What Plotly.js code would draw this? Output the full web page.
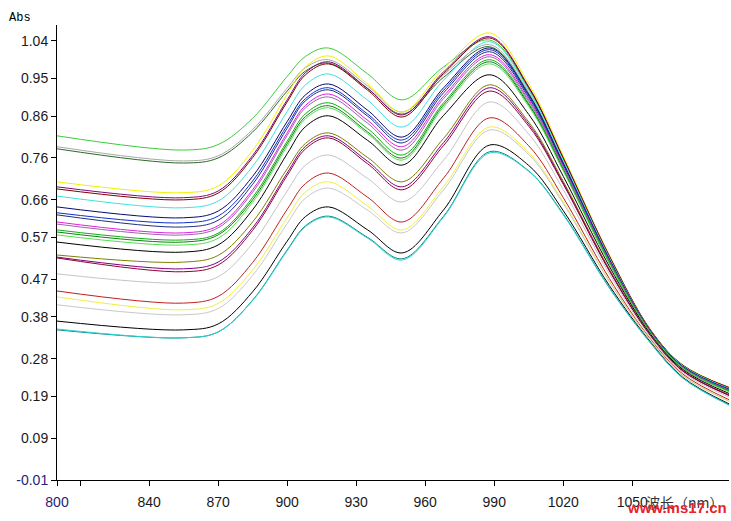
<!DOCTYPE html>
<html>
<head>
<meta charset="utf-8">
<script src="https://cdn.plot.ly/plotly-3.0.1.min.js"></script>
<style>html,body{margin:0;padding:0;background:#fff;}#chart{width:731px;height:521px;}</style>
</head>
<body>
<div id="chart"></div>
<script>
// wavelength (nm) sample points
const wavelength = [800, 855, 870, 885, 900, 908, 918, 935, 950, 968, 988, 1005, 1020, 1040, 1058, 1072, 1092];

// absorbance spectra (top to bottom at 800 nm)
const s01 = [0.813, 0.779, 0.792, 0.855, 0.955, 1.003, 1.023, 0.961, 0.899, 0.978, 1.042, 0.925, 0.757, 0.524, 0.347, 0.263, 0.210];
const s02 = [0.787, 0.753, 0.765, 0.828, 0.927, 0.976, 0.995, 0.932, 0.870, 0.959, 1.031, 0.916, 0.751, 0.520, 0.346, 0.262, 0.208];
const s03 = [0.782, 0.748, 0.760, 0.822, 0.920, 0.968, 0.987, 0.926, 0.865, 0.953, 1.026, 0.913, 0.748, 0.519, 0.345, 0.262, 0.207];
const s04 = [0.703, 0.677, 0.693, 0.778, 0.912, 0.978, 1.004, 0.937, 0.870, 0.974, 1.059, 0.937, 0.765, 0.528, 0.349, 0.265, 0.212];
const s05 = [0.691, 0.665, 0.681, 0.766, 0.899, 0.964, 0.990, 0.926, 0.863, 0.966, 1.050, 0.930, 0.760, 0.526, 0.348, 0.264, 0.211];
const s06 = [0.686, 0.660, 0.676, 0.761, 0.894, 0.959, 0.985, 0.922, 0.858, 0.962, 1.047, 0.928, 0.759, 0.525, 0.347, 0.264, 0.211];
const s07 = [0.669, 0.641, 0.657, 0.740, 0.871, 0.935, 0.961, 0.898, 0.834, 0.946, 1.038, 0.921, 0.754, 0.522, 0.346, 0.263, 0.209];
const s08 = [0.643, 0.617, 0.633, 0.716, 0.847, 0.911, 0.937, 0.874, 0.810, 0.928, 1.023, 0.911, 0.747, 0.518, 0.345, 0.261, 0.207];
const s09 = [0.629, 0.605, 0.621, 0.705, 0.838, 0.902, 0.928, 0.865, 0.803, 0.922, 1.019, 0.908, 0.745, 0.517, 0.344, 0.261, 0.206];
const s10 = [0.624, 0.595, 0.611, 0.697, 0.831, 0.897, 0.923, 0.860, 0.796, 0.916, 1.014, 0.904, 0.743, 0.516, 0.344, 0.260, 0.206];
const s11 = [0.607, 0.581, 0.598, 0.684, 0.820, 0.886, 0.913, 0.850, 0.787, 0.908, 1.007, 0.899, 0.739, 0.514, 0.343, 0.259, 0.205];
const s12 = [0.602, 0.576, 0.593, 0.678, 0.814, 0.880, 0.906, 0.843, 0.779, 0.902, 1.002, 0.895, 0.737, 0.512, 0.343, 0.259, 0.204];
const s13 = [0.588, 0.564, 0.580, 0.666, 0.800, 0.866, 0.892, 0.830, 0.767, 0.892, 0.995, 0.890, 0.733, 0.511, 0.342, 0.258, 0.203];
const s14 = [0.583, 0.559, 0.576, 0.660, 0.794, 0.859, 0.885, 0.822, 0.760, 0.887, 0.990, 0.887, 0.731, 0.509, 0.341, 0.257, 0.202];
const s15 = [0.576, 0.552, 0.568, 0.654, 0.788, 0.854, 0.880, 0.818, 0.755, 0.882, 0.985, 0.883, 0.729, 0.508, 0.341, 0.257, 0.201];
const s16 = [0.559, 0.535, 0.552, 0.636, 0.770, 0.835, 0.861, 0.802, 0.743, 0.862, 0.959, 0.864, 0.716, 0.501, 0.338, 0.254, 0.197];
const s17 = [0.528, 0.511, 0.527, 0.607, 0.734, 0.795, 0.820, 0.761, 0.703, 0.807, 0.935, 0.846, 0.704, 0.494, 0.335, 0.251, 0.194];
const s18 = [0.523, 0.495, 0.511, 0.593, 0.724, 0.788, 0.813, 0.752, 0.691, 0.797, 0.928, 0.841, 0.700, 0.492, 0.335, 0.251, 0.193];
const s19 = [0.521, 0.488, 0.504, 0.587, 0.718, 0.782, 0.808, 0.746, 0.684, 0.790, 0.920, 0.836, 0.697, 0.490, 0.334, 0.250, 0.192];
const s20 = [0.483, 0.461, 0.476, 0.556, 0.681, 0.743, 0.767, 0.711, 0.655, 0.755, 0.894, 0.817, 0.684, 0.483, 0.331, 0.247, 0.188];
const s21 = [0.442, 0.413, 0.429, 0.510, 0.637, 0.699, 0.724, 0.666, 0.607, 0.712, 0.856, 0.789, 0.665, 0.472, 0.326, 0.243, 0.182];
const s22 = [0.428, 0.397, 0.412, 0.492, 0.617, 0.679, 0.703, 0.645, 0.588, 0.692, 0.834, 0.773, 0.655, 0.466, 0.324, 0.240, 0.179];
const s23 = [0.409, 0.385, 0.400, 0.479, 0.603, 0.664, 0.688, 0.635, 0.581, 0.684, 0.827, 0.768, 0.651, 0.464, 0.323, 0.239, 0.178];
const s24 = [0.370, 0.349, 0.363, 0.440, 0.561, 0.620, 0.643, 0.588, 0.533, 0.636, 0.791, 0.742, 0.634, 0.455, 0.319, 0.235, 0.172];
const s25 = [0.349, 0.330, 0.344, 0.420, 0.540, 0.598, 0.621, 0.570, 0.519, 0.621, 0.775, 0.729, 0.626, 0.450, 0.317, 0.234, 0.170];
const s26 = [0.351, 0.330, 0.344, 0.419, 0.538, 0.596, 0.619, 0.568, 0.516, 0.619, 0.772, 0.728, 0.624, 0.449, 0.317, 0.233, 0.169];

const seriesList = [s01, s02, s03, s04, s05, s06, s07, s08, s09, s10, s11, s12, s13, s14, s15, s16, s17, s18, s19, s20, s21, s22, s23, s24, s25, s26];
const seriesColors = ['#3ccc3c', '#a8a8a8', '#2a6a2a', '#f2f000', '#7a0a7a', '#800000', '#40e0e0', '#0a0a70', '#1030d0', '#203080',
                      '#e020e0', '#a060b0', '#10b010', '#108010', '#50e050', '#000000', '#808000', '#800080', '#900030', '#c4c4c4',
                      '#c02020', '#f0f040', '#c8c8c8', '#000000', '#008c8c', '#30d0d0'];

// axis ticks as labelled in the picture
const xTickVals = [800, 810, 840, 870, 900, 930, 960, 990, 1020, 1050];
const xTickText = ['<span style="color:#24247a">800</span>', '', '840', '870', '900', '930', '960', '990', '1020', '1050'];
const yTickVals = [-0.01, 0.09, 0.19, 0.28, 0.38, 0.47, 0.57, 0.66, 0.76, 0.86, 0.95, 1.04];
const yTickText = ['<span style="color:#24247a">-0.01</span>', '0.09', '0.19', '0.28', '0.38', '0.47', '0.57', '0.66', '0.76', '0.86', '0.95', '1.04'];

const traces = seriesList.map((ys, i) => ({
  x: wavelength,
  y: ys,
  type: 'scatter',
  mode: 'lines',
  line: {color: seriesColors[i], width: 1, shape: 'spline', smoothing: 1},
  hoverinfo: 'skip',
  showlegend: false
}));

const tickFont = {family: 'Liberation Sans, Arial, sans-serif', size: 14, color: '#1a1a1a'};

const layout = {
  width: 731, height: 521,
  margin: {l: 57, r: 2, t: 25, b: 41},
  paper_bgcolor: '#ffffff', plot_bgcolor: '#ffffff',
  showlegend: false,
  xaxis: {
    range: [800, 1092], showgrid: false, zeroline: false,
    showline: true, linecolor: '#000', linewidth: 1,
    ticks: 'outside', ticklen: 5, tickcolor: '#000', tickwidth: 1,
    tickmode: 'array', tickvals: xTickVals, ticktext: xTickText,
    tickfont: tickFont, ticklabelstandoff: 4
  },
  yaxis: {
    range: [-0.01, 1.078], showgrid: false, zeroline: false,
    showline: true, linecolor: '#000', linewidth: 1,
    ticks: 'outside', ticklen: 5, tickcolor: '#000', tickwidth: 1,
    tickmode: 'array', tickvals: yTickVals, ticktext: yTickText,
    tickfont: tickFont
  },
  annotations: [
    {text: 'Abs', xref: 'paper', yref: 'paper', x: 0, y: 1, xanchor: 'left', yanchor: 'middle',
     xshift: -50, yshift: 7, showarrow: false,
     font: {family: 'Liberation Mono, DejaVu Sans Mono, monospace', size: 12, color: '#000'}},
    {text: '波长（nm）', xref: 'paper', yref: 'paper', x: 1, y: 0, xanchor: 'right', yanchor: 'middle',
     xshift: -3, yshift: -22, showarrow: false,
     font: {family: 'Noto Sans CJK SC, sans-serif', size: 14, color: '#333'}},
    {text: '<b>www.ms17.cn</b>', xref: 'paper', yref: 'paper', x: 1, y: 0, xanchor: 'right', yanchor: 'middle',
     xshift: 0, yshift: -27, showarrow: false,
     font: {family: 'Liberation Sans, Arial, sans-serif', size: 15, color: '#e8222a'}}
  ]
};

Plotly.newPlot('chart', traces, layout, {staticPlot: true, displayModeBar: false});
</script>
</body>
</html>
